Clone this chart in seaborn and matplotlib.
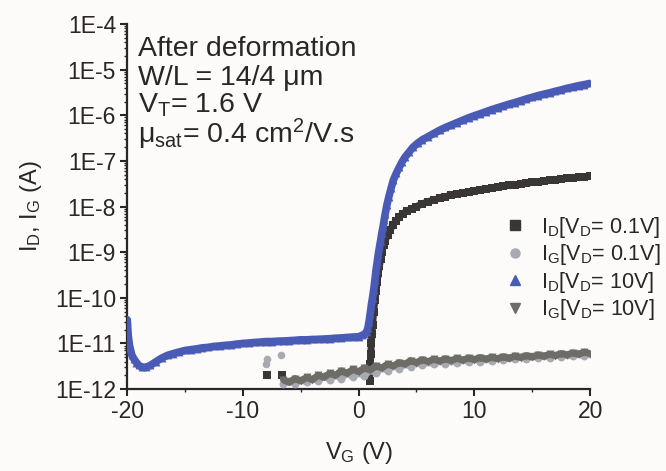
import matplotlib
matplotlib.use("Agg")
import matplotlib.pyplot as plt
from matplotlib.lines import Line2D
from matplotlib.ticker import FuncFormatter, LogLocator, MultipleLocator
import numpy as np
import pandas as pd
import seaborn as sns

# I_D at V_D = 0.1 V (dark squares)
vg_id01 = [0.95, 1.0, 1.05, 1.1, 1.15, 1.2, 1.3, 1.4, 1.5, 1.6, 1.7, 1.8, 1.9, 2.0,
           2.15, 2.3, 2.5, 2.7, 2.95, 3.2, 3.5, 3.8, 4.2, 4.6, 5.0, 5.5, 6.0, 6.5,
           7.0, 7.5, 8.0, 8.5, 9.0, 9.5, 10.0, 10.5, 11.0, 11.5, 12.0, 12.5, 13.0,
           13.5, 14.0, 14.5, 15.0, 15.5, 16.0, 16.5, 17.0, 17.5, 18.0, 18.5, 19.0,
           19.5, 20.0]
id01 = [1.5e-12, 3.5e-12, 6e-12, 1.0e-11, 1.6e-11, 2.5e-11, 5e-11, 9e-11, 1.4e-10,
        2.2e-10, 3.5e-10, 5e-10, 7e-10, 1.0e-9, 1.4e-9, 1.8e-9, 2.4e-9, 3.0e-9,
        3.9e-9, 4.8e-9, 5.8e-9, 7e-9, 8e-9, 9e-9, 1.0e-8, 1.15e-8, 1.28e-8, 1.4e-8,
        1.52e-8, 1.65e-8, 1.78e-8, 1.9e-8, 2.0e-8, 2.1e-8, 2.22e-8, 2.35e-8, 2.45e-8,
        2.55e-8, 2.68e-8, 2.8e-8, 2.9e-8, 3.0e-8, 3.12e-8, 3.25e-8, 3.38e-8, 3.5e-8,
        3.62e-8, 3.75e-8, 3.88e-8, 4.0e-8, 4.15e-8, 4.3e-8, 4.4e-8, 4.5e-8, 4.6e-8]
vg_id01_low = [-7.9, -6.6]
id01_low = [2.0e-12, 2.0e-12]

# I_D at V_D = 10 V (blue triangles)
vg_id10 = [-20.0, -19.9, -19.8, -19.7, -19.6, -19.4, -19.2, -19.0, -18.7, -18.4,
           -18.0, -17.5, -17.0, -16.5, -16.0, -15.5, -15.0, -14.5, -14.0, -13.5,
           -13.0, -12.5, -12.0, -11.5, -11.0, -10.5, -10.0, -9.5, -9.0, -8.5, -8.0,
           -7.5, -7.0, -6.5, -6.0, -5.5, -5.0, -4.5, -4.0, -3.5, -3.0, -2.5, -2.0,
           -1.5, -1.0, -0.5, 0.0, 0.3, 0.5, 0.7, 0.8, 0.9, 1.0, 1.1, 1.2, 1.3, 1.4,
           1.5, 1.6, 1.7, 1.8, 1.9, 2.0, 2.1, 2.2, 2.3, 2.45, 2.6, 2.8, 3.0, 3.25,
           3.5, 3.75, 4.0, 4.35, 4.7, 5.1, 5.5, 6.0, 6.5, 7.0, 7.5, 8.0, 8.5, 9.0,
           9.5, 10.0, 10.5, 11.0, 11.5, 12.0, 12.5, 13.0, 13.5, 14.0, 14.5, 15.0,
           15.5, 16.0, 16.5, 17.0, 17.5, 18.0, 18.5, 19.0, 19.5, 20.0]
id10 = [3.3e-11, 1.4e-11, 9e-12, 7e-12, 5.5e-12, 4.5e-12, 3.8e-12, 3.3e-12, 3.0e-12,
        3.0e-12, 3.3e-12, 4.0e-12, 4.8e-12, 5.5e-12, 6.0e-12, 6.5e-12, 7.0e-12,
        7.3e-12, 7.6e-12, 8.0e-12, 8.2e-12, 8.6e-12, 8.8e-12, 9.1e-12, 9.3e-12,
        9.7e-12, 1.0e-11, 1.02e-11, 1.05e-11, 1.07e-11, 1.1e-11, 1.1e-11, 1.12e-11,
        1.13e-11, 1.15e-11, 1.17e-11, 1.2e-11, 1.2e-11, 1.22e-11, 1.23e-11, 1.25e-11,
        1.27e-11, 1.3e-11, 1.32e-11, 1.35e-11, 1.38e-11, 1.4e-11, 1.5e-11, 1.6e-11,
        1.8e-11, 2.2e-11, 3e-11, 4.5e-11, 7e-11, 1.0e-10, 1.5e-10, 2.4e-10, 4e-10,
        6e-10, 9e-10, 1.3e-9, 1.8e-9, 2.6e-9, 3.5e-9, 5e-9, 7e-9, 1.1e-8, 1.6e-8,
        2.5e-8, 3.8e-8, 5.3e-8, 7.2e-8, 9.5e-8, 1.2e-7, 1.55e-7, 2.0e-7, 2.45e-7,
        2.9e-7, 3.4e-7, 4.0e-7, 4.7e-7, 5.4e-7, 6.1e-7, 6.9e-7, 7.8e-7, 8.8e-7,
        9.8e-7, 1.08e-6, 1.2e-6, 1.33e-6, 1.46e-6, 1.6e-6, 1.75e-6, 1.9e-6, 2.08e-6,
        2.28e-6, 2.48e-6, 2.7e-6, 2.9e-6, 3.1e-6, 3.35e-6, 3.6e-6, 3.9e-6, 4.15e-6,
        4.45e-6, 4.7e-6, 5.0e-6]

# gate leakage I_G, same V_G grid for both drain biases
vg_ig = [-6.5, -6.0, -5.5, -5.0, -4.5, -4.0, -3.5, -3.0, -2.5, -2.0, -1.5, -1.0,
         -0.5, 0.0, 0.5, 1.0, 1.5, 2.0, 2.5, 3.0, 3.5, 4.0, 4.5, 5.0, 5.5, 6.0, 6.5,
         7.0, 7.5, 8.0, 8.5, 9.0, 9.5, 10.0, 10.5, 11.0, 11.5, 12.0, 12.5, 13.0,
         13.5, 14.0, 14.5, 15.0, 15.5, 16.0, 16.5, 17.0, 17.5, 18.0, 18.5, 19.0,
         19.5, 20.0]
ig01 = [1.3e-12, 1.5e-12, 1.3e-12, 1.6e-12, 1.4e-12, 1.7e-12, 1.5e-12, 1.9e-12,
        1.6e-12, 2.0e-12, 1.7e-12, 2.2e-12, 1.8e-12, 2.3e-12, 1.9e-12, 2.6e-12,
        2.2e-12, 2.9e-12, 2.5e-12, 3.2e-12, 2.8e-12, 3.5e-12, 3.1e-12, 3.8e-12,
        3.3e-12, 3.9e-12, 3.5e-12, 4.1e-12, 3.6e-12, 4.2e-12, 3.8e-12, 4.4e-12,
        3.9e-12, 4.5e-12, 4.0e-12, 4.6e-12, 4.2e-12, 4.8e-12, 4.3e-12, 4.9e-12,
        4.5e-12, 5.1e-12, 4.6e-12, 5.2e-12, 4.8e-12, 5.4e-12, 4.9e-12, 5.5e-12,
        5.1e-12, 5.7e-12, 5.2e-12, 5.9e-12, 5.4e-12, 6.0e-12]
ig10 = [1.6e-12, 1.4e-12, 1.7e-12, 1.5e-12, 1.8e-12, 1.6e-12, 2.0e-12, 1.8e-12,
        2.2e-12, 2.0e-12, 2.5e-12, 2.2e-12, 2.7e-12, 2.4e-12, 2.9e-12, 2.6e-12,
        3.2e-12, 2.9e-12, 3.5e-12, 3.2e-12, 3.8e-12, 3.5e-12, 4.2e-12, 3.8e-12,
        4.4e-12, 4.0e-12, 4.5e-12, 4.1e-12, 4.6e-12, 4.2e-12, 4.7e-12, 4.3e-12,
        4.8e-12, 4.4e-12, 4.9e-12, 4.5e-12, 5.0e-12, 4.6e-12, 5.1e-12, 4.7e-12,
        5.3e-12, 4.9e-12, 5.4e-12, 5.0e-12, 5.6e-12, 5.2e-12, 5.8e-12, 5.4e-12,
        6.0e-12, 5.6e-12, 6.2e-12, 5.8e-12, 6.4e-12, 6.0e-12]
vg_ig01_off = [-8.0, -7.9, -6.7]
ig01_off = [3.5e-12, 4.5e-12, 5.5e-12]

labels = [r"I$_\mathregular{D}$[V$_\mathregular{D}$= 0.1V]",
          r"I$_\mathregular{G}$[V$_\mathregular{D}$= 0.1V]",
          r"I$_\mathregular{D}$[V$_\mathregular{D}$= 10V]",
          r"I$_\mathregular{G}$[V$_\mathregular{D}$= 10V]"]
colors = ["#3a3636", "#a9a9b1", "#4a5bb5", "#6d6c66"]
markers = ["s", "o", "^", "v"]
line_widths = [5.0, 4.5, 5.5, 5.0]

sns.set_style("ticks")
plt.rcParams["font.family"] = ["Liberation Sans", "DejaVu Sans"]
plt.rcParams["mathtext.fontset"] = "custom"
plt.rcParams["mathtext.rm"] = "Liberation Sans"
plt.rcParams["mathtext.it"] = "Liberation Sans:italic"
plt.rcParams["axes.unicode_minus"] = False

fig = plt.figure(figsize=(6.66, 4.71), dpi=100, facecolor="#fcfbf9")
ax = fig.add_axes([0.191, 0.174, 0.695, 0.775])
ax.set_facecolor("#fcfbf9")

series = [
    (vg_id01, id01, 0),
    (vg_ig, ig01, 1),
    (vg_id10, id10, 2),
    (vg_ig, ig10, 3),
]
for vg, cur, k in series:
    df = pd.DataFrame({"VG": vg, "I": cur})
    ax.plot(df["VG"], df["I"], color=colors[k], lw=line_widths[k], zorder=2 + k,
            solid_capstyle="round", solid_joinstyle="round")
    sns.scatterplot(data=df, x="VG", y="I", marker=markers[k], color=colors[k],
                    s=32, linewidth=0, ax=ax, zorder=2 + k, legend=False)

sns.scatterplot(x=vg_id01_low, y=id01_low, marker="s", color=colors[0], s=26,
                linewidth=0, ax=ax, zorder=2, legend=False)
sns.scatterplot(x=vg_ig01_off, y=ig01_off, marker="o", color=colors[1], s=30,
                linewidth=0, ax=ax, zorder=3, legend=False)

ax.set_yscale("log")
ax.set_xlim(-20, 20)
ax.set_ylim(1e-12, 1e-4)
ax.xaxis.set_major_locator(MultipleLocator(10))
ax.xaxis.set_minor_locator(MultipleLocator(5))
ax.yaxis.set_major_locator(LogLocator(base=10, numticks=20))
ax.yaxis.set_minor_locator(LogLocator(base=10, subs=np.arange(2, 10), numticks=20))
ax.yaxis.set_major_formatter(FuncFormatter(lambda v, _: f"1E{int(round(np.log10(v)))}"))
ax.yaxis.set_minor_formatter(FuncFormatter(lambda v, _: ""))

sns.despine(ax=ax)
for sp in ["left", "bottom"]:
    ax.spines[sp].set_linewidth(1.6)
    ax.spines[sp].set_color("#2a2626")
ax.tick_params(which="major", direction="out", length=5, width=1.5,
               labelsize=16.5, colors="#2a2626", pad=3)
ax.tick_params(which="minor", direction="out", length=2.5, width=1.0,
               colors="#2a2626")

ax.set_xlabel(r"V$_\mathregular{G}$ (V)", fontsize=17, color="#2a2626", labelpad=12)
ax.set_ylabel(r"I$_\mathregular{D}$, I$_\mathregular{G}$ (A)", fontsize=17,
              color="#2a2626", labelpad=8)

notes = ["After deformation",
         r"W/L = 14/4 μm",
         r"V$_\mathregular{T}$= 1.6 V",
         r"μ$_\mathregular{sat}$= 0.4 cm$^\mathregular{2}$/V.s"]
ys = [0.912, 0.832, 0.757, 0.674]
for t, y in zip(notes, ys):
    ax.text(0.024, y, t, transform=ax.transAxes, fontsize=20.5, va="baseline",
            ha="left", color="#2a2626")

handles = [Line2D([], [], linestyle="none", marker=markers[k], color=colors[k],
                  markersize=6.5) for k in range(4)]
leg = ax.legend(handles, labels, loc="upper left", bbox_to_anchor=(0.815, 0.478),
                frameon=False, fontsize=15.5, handlelength=1.0, handletextpad=0.7,
                labelspacing=0.12, borderaxespad=0, borderpad=0)
for txt in leg.get_texts():
    txt.set_color("#2a2626")

fig.savefig("out.png", dpi=100, facecolor=fig.get_facecolor())
